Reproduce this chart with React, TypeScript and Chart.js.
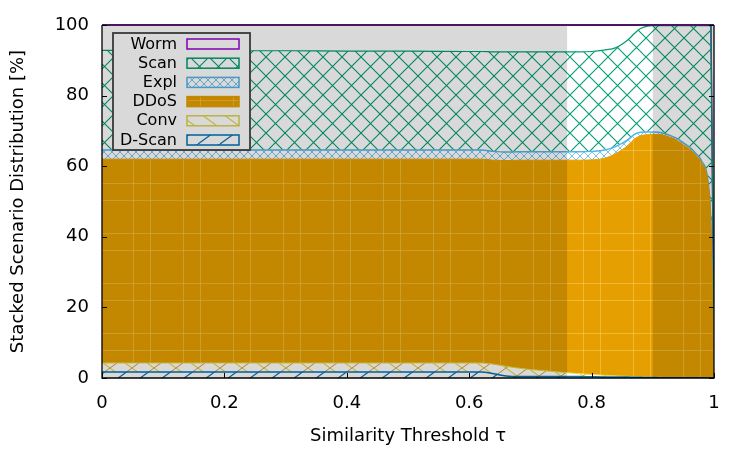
import React, { useEffect, useRef } from "react";
import { Chart, registerables } from "chart.js";

Chart.register(...registerables);

// ---------- data ----------
const thresholds = [0, 0.1, 0.2, 0.3, 0.4, 0.5, 0.6, 0.62, 0.64, 0.66, 0.68, 0.7, 0.72, 0.74, 0.76, 0.78, 0.8, 0.82, 0.84, 0.86, 0.87, 0.88, 0.89, 0.9, 0.91, 0.92, 0.93, 0.94, 0.95, 0.96, 0.97, 0.98, 0.99, 0.995, 1];
const dScanValues = [1.7, 1.7, 1.7, 1.7, 1.7, 1.7, 1.7, 1.7, 1.2, 0.6, 0.4, 0.4, 0.4, 0.4, 0.4, 0.4, 0.35, 0.3, 0.3, 0.25, 0.2, 0.2, 0.15, 0.15, 0.1, 0.1, 0.1, 0.1, 0.1, 0.1, 0.1, 0.1, 0.1, 0.1, 0];
const convValues = [2.55, 2.55, 2.55, 2.55, 2.55, 2.55, 2.55, 2.55, 2.7, 2.7, 2.4, 2.0, 1.7, 1.4, 1.1, 0.85, 0.65, 0.5, 0.3, 0.2, 0.2, 0.1, 0.1, 0.05, 0.1, 0.05, 0.05, 0.05, 0.05, 0.05, 0.05, 0.05, 0.05, 0.05, 0];
const ddosValues = [57.75, 57.75, 57.75, 57.75, 57.75, 57.75, 57.75, 57.75, 57.8, 58.3, 58.9, 59.3, 59.6, 59.9, 60.2, 60.45, 60.8, 61.4, 63.0, 65.55, 67.3, 68.3, 68.65, 68.8, 68.8, 68.55, 67.95, 67.15, 65.95, 64.75, 63.05, 60.75, 55.35, 42.85, 0];
const explValues = [2.6, 2.6, 2.6, 2.6, 2.6, 2.6, 2.6, 2.6, 2.5, 2.4, 2.4, 2.4, 2.4, 2.4, 2.4, 2.4, 2.4, 2.3, 2.0, 1.6, 1.3, 1.0, 0.8, 0.7, 0.6, 0.5, 0.5, 0.5, 0.5, 0.5, 0.5, 0.5, 0.5, 0.5, 0];
const scanValues = [28.2, 28.2, 28.1, 28.1, 28.0, 28.0, 27.9, 27.9, 28.2, 28.4, 28.3, 28.3, 28.3, 28.3, 28.3, 28.3, 28.3, 28.4, 28.0, 28.3, 28.6, 29.4, 29.9, 30.1, 30.2, 30.6, 31.2, 32.0, 33.2, 34.4, 36.1, 38.4, 43.8, 56.3, 0];
const wormValues = [7.2, 7.2, 7.3, 7.3, 7.4, 7.4, 7.5, 7.5, 7.6, 7.6, 7.6, 7.6, 7.6, 7.6, 7.6, 7.6, 7.5, 7.1, 6.4, 4.1, 2.4, 1.0, 0.4, 0.2, 0.2, 0.2, 0.2, 0.2, 0.2, 0.2, 0.2, 0.2, 0.2, 0.2, 0];

const seriesLabels = ["D-Scan", "Conv", "DDoS", "Expl", "Scan", "Worm"];
const xTickValues = [0, 0.2, 0.4, 0.6, 0.8, 1];
const xTickLabels = ["0", "0.2", "0.4", "0.6", "0.8", "1"];
const yTickValues = [0, 20, 40, 60, 80, 100];
const yTickLabels = ["0", "20", "40", "60", "80", "100"];
const shadedRanges: [number, number][] = [[0, 0.76], [0.9, 1]];

const xTitle = "Similarity Threshold τ";
const yTitle = "Stacked Scenario Distribution [%]";

// ---------- pattern helpers ----------
function tile(ctx: CanvasRenderingContext2D, w: number, h: number, draw: (g: CanvasRenderingContext2D) => void) {
  const c = document.createElement("canvas");
  c.width = w;
  c.height = h;
  const g = c.getContext("2d")!;
  draw(g);
  return ctx.createPattern(c, "repeat")!;
}

function crossHatch(ctx: CanvasRenderingContext2D, s: number, color: string, lw: number) {
  return tile(ctx, s, s, (g) => {
    g.strokeStyle = color;
    g.lineWidth = lw;
    g.beginPath();
    for (let k = -1; k <= 1; k++) {
      g.moveTo(k * s, 0);
      g.lineTo(k * s + s, s);
      g.moveTo(k * s, s);
      g.lineTo(k * s + s, 0);
    }
    g.stroke();
  });
}

function slantLines(ctx: CanvasRenderingContext2D, w: number, h: number, items: { color: string; dir: 1 | -1; lw: number }[]) {
  return tile(ctx, w, h, (g) => {
    for (const it of items) {
      g.strokeStyle = it.color;
      g.lineWidth = it.lw;
      g.beginPath();
      for (let k = -1; k <= 1; k++) {
        if (it.dir === 1) {
          g.moveTo(k * w, h);
          g.lineTo(k * w + w, 0);
        } else {
          g.moveTo(k * w, 0);
          g.lineTo(k * w + w, h);
        }
      }
      g.stroke();
    }
  });
}

function ddosTile(ctx: CanvasRenderingContext2D) {
  return tile(ctx, 50, 50, (g) => {
    g.fillStyle = "#e69f00";
    g.fillRect(0, 0, 50, 50);
    g.fillStyle = "rgba(255,222,130,0.4)";
    g.fillRect(0, 0, 1, 50);
    g.fillRect(33, 0, 1, 50);
    g.fillRect(0, 0, 50, 1);
    g.fillRect(0, 33, 50, 1);
  });
}

const gnuplotPlugin = {
  id: "gnuplotDecor",
  afterDatasetsDraw(chart: any) {
    const ctx: CanvasRenderingContext2D = chart.ctx;
    const { left, right, top, bottom } = chart.chartArea;
    const xs = chart.scales.x;
    const ys = chart.scales.y;
    ctx.save();

    // legend (drawn before the shading overlay)
    const bx = 113, by = 33, bw = 137, bh = 117;
    ctx.fillStyle = "#ffffff";
    ctx.fillRect(bx, by, bw, bh);
    const ds = chart.data.datasets.slice().reverse();
    ctx.font = "16px 'DejaVu Sans'";
    ctx.textAlign = "right";
    ctx.textBaseline = "middle";
    ds.forEach((d: any, i: number) => {
      const cy = 44 + i * 19.2;
      ctx.fillStyle = "#000";
      ctx.fillText(d.label, 177, cy + 0.5);
      const sx = 187, sw = 52, sh = 10, sy = cy - 5;
      if (d.legendFill) {
        ctx.fillStyle = d.legendFill;
        ctx.fillRect(sx, sy, sw, sh);
      }
      ctx.strokeStyle = d.legendStroke;
      ctx.lineWidth = 1.5;
      ctx.strokeRect(sx, sy, sw, sh);
    });
    ctx.strokeStyle = "#444";
    ctx.lineWidth = 1.8;
    ctx.strokeRect(bx, by, bw, bh);

    // shaded ranges
    ctx.fillStyle = "rgba(0,0,0,0.15)";
    for (const [a, b] of shadedRanges) {
      const pa = xs.getPixelForValue(a);
      const pb = xs.getPixelForValue(b);
      ctx.fillRect(pa, top, pb - pa, bottom - top);
    }

    // frame
    ctx.strokeStyle = "#000";
    ctx.lineWidth = 1.3;
    ctx.beginPath();
    ctx.moveTo(left, top);
    ctx.lineTo(left, bottom);
    ctx.lineTo(right, bottom);
    ctx.lineTo(right, top);
    ctx.stroke();
    ctx.strokeStyle = "#4b1660";
    ctx.lineWidth = 2;
    ctx.beginPath();
    ctx.moveTo(left, top);
    ctx.lineTo(right, top);
    ctx.stroke();

    // inward ticks
    ctx.strokeStyle = "#000";
    ctx.lineWidth = 1;
    ctx.beginPath();
    for (const v of yTickValues) {
      const py = Math.round(ys.getPixelForValue(v)) + 0.5;
      ctx.moveTo(left, py);
      ctx.lineTo(left + 5, py);
      ctx.moveTo(right, py);
      ctx.lineTo(right - 5, py);
    }
    for (const v of xTickValues) {
      const px = Math.round(xs.getPixelForValue(v)) + 0.5;
      ctx.moveTo(px, bottom);
      ctx.lineTo(px, bottom - 5);
    }
    ctx.stroke();
    ctx.restore();
  },
};

export default function App() {
  const ref = useRef<HTMLCanvasElement | null>(null);

  useEffect(() => {
    const canvas = ref.current!;
    const ctx = canvas.getContext("2d")!;

    const dScanFill = slantLines(ctx, 22, 16, [{ color: "#0072b2", dir: 1, lw: 1.2 }]);
    const convFill = slantLines(ctx, 22, 16, [
      { color: "#e8d84a", dir: -1, lw: 1.2 },
      { color: "#d8942a", dir: 1, lw: 1 },
    ]);
    const convLegend = slantLines(ctx, 22, 16, [{ color: "#e8d84a", dir: -1, lw: 1.2 }]);
    const ddosFill = ddosTile(ctx);
    const explFill = crossHatch(ctx, 8, "#56b4e9", 0.8);
    const scanFill = crossHatch(ctx, 19, "#009e73", 1.1);

    const mk = (vals: number[]) => thresholds.map((x, i) => ({ x, y: vals[i] }));

    const common = {
      pointRadius: 0,
      pointHoverRadius: 0,
      cubicInterpolationMode: "monotone" as const,
    };

    const chart = new Chart(canvas, {
      type: "line",
      data: {
        datasets: [
          { ...common, label: seriesLabels[0], data: mk(dScanValues), fill: "origin", backgroundColor: dScanFill, borderColor: "#0072b2", borderWidth: 1.5, legendFill: dScanFill, legendStroke: "#0072b2" } as any,
          { ...common, label: seriesLabels[1], data: mk(convValues), fill: "-1", backgroundColor: convFill, borderColor: "#e8d84a", borderWidth: 1, legendFill: convLegend, legendStroke: "#e0d050" } as any,
          { ...common, label: seriesLabels[2], data: mk(ddosValues), fill: "-1", backgroundColor: ddosFill, borderColor: "#e69f00", borderWidth: 1, legendFill: ddosFill, legendStroke: "#e69f00" } as any,
          { ...common, label: seriesLabels[3], data: mk(explValues), fill: "-1", backgroundColor: explFill, borderColor: "#56b4e9", borderWidth: 1.5, legendFill: explFill, legendStroke: "#56b4e9" } as any,
          { ...common, label: seriesLabels[4], data: mk(scanValues), fill: "-1", backgroundColor: scanFill, borderColor: "#009e73", borderWidth: 1.2, legendFill: scanFill, legendStroke: "#009e73" } as any,
          { ...common, label: seriesLabels[5], data: mk(wormValues), fill: false, backgroundColor: "rgba(0,0,0,0)", borderColor: "#9400d3", borderWidth: 1.5, legendFill: null, legendStroke: "#9400d3" } as any,
        ],
      },
      options: {
        responsive: false,
        devicePixelRatio: 1,
        animation: false,
        events: [],
        layout: { padding: { left: 0, top: 25, right: 36, bottom: 0 } },
        plugins: {
          legend: { display: false },
          tooltip: { enabled: false },
        },
        scales: {
          x: {
            type: "linear",
            min: 0,
            max: 1,
            grid: { display: false, drawTicks: false },
            border: { display: false },
            afterFit: (s: any) => {
              s.height = 72;
            },
            afterBuildTicks: (s: any) => {
              s.ticks = xTickValues.map((v) => ({ value: v }));
            },
            ticks: {
              padding: 15,
              color: "#000",
              font: { family: "'DejaVu Sans'", size: 18 },
              maxRotation: 0,
              autoSkip: false,
              callback: (v: any) => {
                const i = xTickValues.findIndex((t) => Math.abs(t - Number(v)) < 1e-9);
                return i >= 0 ? xTickLabels[i] : "";
              },
            },
            title: {
              display: true,
              text: xTitle,
              color: "#000",
              font: { family: "'DejaVu Sans'", size: 18 },
              padding: { top: 0, bottom: 3 },
            },
          },
          y: {
            type: "linear",
            stacked: true,
            min: 0,
            max: 100,
            grid: { display: false, drawTicks: false },
            border: { display: false },
            afterFit: (s: any) => {
              s.width = 102;
            },
            afterBuildTicks: (s: any) => {
              s.ticks = yTickValues.map((v) => ({ value: v }));
            },
            ticks: {
              padding: 13,
              color: "#000",
              font: { family: "'DejaVu Sans'", size: 18 },
              autoSkip: false,
              callback: (v: any) => {
                const i = yTickValues.indexOf(Number(v));
                return i >= 0 ? yTickLabels[i] : "";
              },
            },
            title: {
              display: true,
              text: yTitle,
              color: "#000",
              font: { family: "'DejaVu Sans'", size: 18 },
              padding: { top: 8, bottom: 0 },
            },
          },
        },
      } as any,
      plugins: [gnuplotPlugin],
    });

    return () => chart.destroy();
  }, []);

  return (
    <div style={{ position: "absolute", left: 0, top: 0, width: 750, height: 450 }}>
      <canvas ref={ref} width={750} height={450} style={{ width: 750, height: 450, display: "block" }} />
    </div>
  );
}
